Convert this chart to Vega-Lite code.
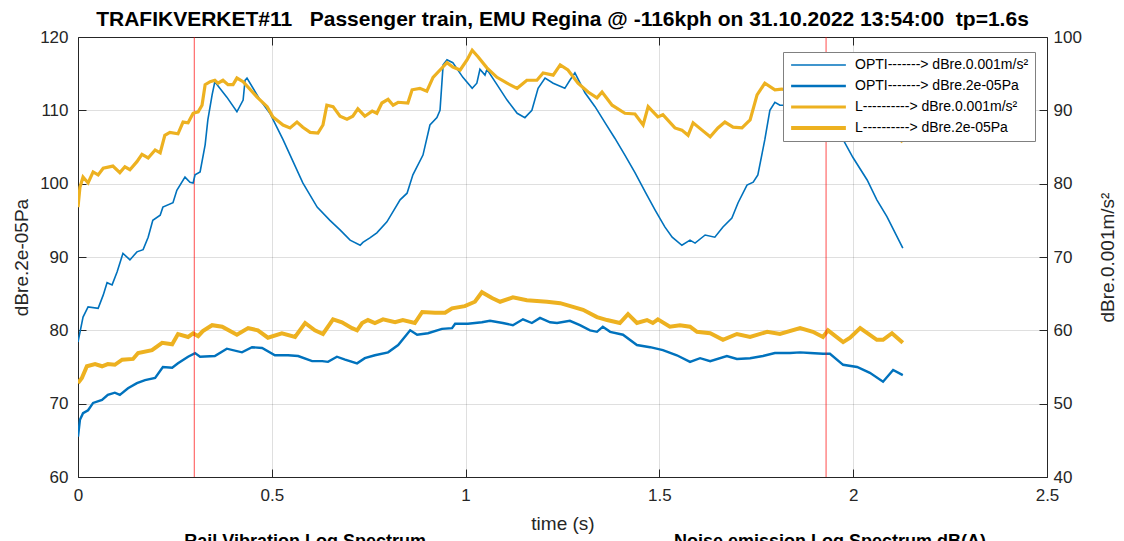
{
"$schema": "https://vega.github.io/schema/vega-lite/v6.json",
"width": 969, "height": 440,
"autosize": {"type": "none"},
"padding": {"left": 78, "top": 37, "right": 77, "bottom": 64},
"background": "white",
"title": {"text": "TRAFIKVERKET#11\u00a0\u00a0\u00a0Passenger train, EMU Regina @ -116kph on 31.10.2022 13:54:00\u00a0\u00a0tp=1.6s", "font": "Liberation Sans", "fontSize": 21, "fontWeight": "bold", "color": "#000000", "anchor": "middle", "offset": -2},
"config": {
  "view": {"stroke": "#262626", "strokeWidth": 1},
  "axis": {"labelFont": "Liberation Sans", "labelFontSize": 17, "labelColor": "#262626", "titleFont": "Liberation Sans", "titleFontSize": 19, "titleFontWeight": "normal", "titleColor": "#262626", "tickColor": "#262626", "domain": false, "gridColor": "#262626", "gridOpacity": 0.15, "tickSize": -8, "labelPadding": 18, "labelFlush": false}
},
"datasets": {
"lines": [
{"s":"OA","t":0,"v":58.4},{"s":"OA","t":0.013,"v":61.8},{"s":"OA","t":0.026,"v":63.2},{"s":"OA","t":0.052,"v":63.0},{"s":"OA","t":0.065,"v":64.8},{"s":"OA","t":0.075,"v":66.5},{"s":"OA","t":0.088,"v":66.2},{"s":"OA","t":0.101,"v":68.0},{"s":"OA","t":0.116,"v":70.5},{"s":"OA","t":0.134,"v":69.6},{"s":"OA","t":0.152,"v":70.7},{"s":"OA","t":0.168,"v":71.0},{"s":"OA","t":0.181,"v":72.7},{"s":"OA","t":0.193,"v":75.0},{"s":"OA","t":0.212,"v":75.7},{"s":"OA","t":0.219,"v":76.8},{"s":"OA","t":0.245,"v":77.4},{"s":"OA","t":0.255,"v":79.1},{"s":"OA","t":0.276,"v":80.9},{"s":"OA","t":0.289,"v":80.2},{"s":"OA","t":0.297,"v":80.1},{"s":"OA","t":0.302,"v":81.2},{"s":"OA","t":0.315,"v":81.6},{"s":"OA","t":0.328,"v":85.3},{"s":"OA","t":0.335,"v":88.7},{"s":"OA","t":0.346,"v":92.1},{"s":"OA","t":0.353,"v":93.9},{"s":"OA","t":0.384,"v":91.8},{"s":"OA","t":0.410,"v":89.8},{"s":"OA","t":0.426,"v":91.4},{"s":"OA","t":0.431,"v":94.1},{"s":"OA","t":0.436,"v":94.4},{"s":"OA","t":0.470,"v":91.4},{"s":"OA","t":0.495,"v":89.6},{"s":"OA","t":0.529,"v":86.0},{"s":"OA","t":0.580,"v":80.1},{"s":"OA","t":0.617,"v":76.8},{"s":"OA","t":0.650,"v":75.0},{"s":"OA","t":0.676,"v":73.7},{"s":"OA","t":0.702,"v":72.3},{"s":"OA","t":0.728,"v":71.6},{"s":"OA","t":0.735,"v":72.0},{"s":"OA","t":0.753,"v":72.6},{"s":"OA","t":0.771,"v":73.3},{"s":"OA","t":0.797,"v":74.8},{"s":"OA","t":0.831,"v":77.8},{"s":"OA","t":0.849,"v":78.7},{"s":"OA","t":0.864,"v":81.2},{"s":"OA","t":0.890,"v":83.9},{"s":"OA","t":0.908,"v":88.0},{"s":"OA","t":0.926,"v":89.0},{"s":"OA","t":0.934,"v":90.0},{"s":"OA","t":0.942,"v":96.2},{"s":"OA","t":0.952,"v":96.9},{"s":"OA","t":0.967,"v":96.5},{"s":"OA","t":0.993,"v":94.5},{"s":"OA","t":1.017,"v":93.0},{"s":"OA","t":1.029,"v":93.7},{"s":"OA","t":1.037,"v":95.6},{"s":"OA","t":1.050,"v":94.8},{"s":"OA","t":1.055,"v":95.6},{"s":"OA","t":1.081,"v":93.5},{"s":"OA","t":1.107,"v":91.4},{"s":"OA","t":1.133,"v":89.6},{"s":"OA","t":1.153,"v":89.0},{"s":"OA","t":1.171,"v":90.0},{"s":"OA","t":1.187,"v":93.0},{"s":"OA","t":1.205,"v":94.4},{"s":"OA","t":1.226,"v":93.7},{"s":"OA","t":1.256,"v":93.0},{"s":"OA","t":1.269,"v":94.1},{"s":"OA","t":1.282,"v":95.1},{"s":"OA","t":1.308,"v":92.4},{"s":"OA","t":1.334,"v":90.5},{"s":"OA","t":1.360,"v":88.3},{"s":"OA","t":1.385,"v":86.2},{"s":"OA","t":1.411,"v":83.9},{"s":"OA","t":1.437,"v":81.5},{"s":"OA","t":1.463,"v":78.9},{"s":"OA","t":1.489,"v":76.4},{"s":"OA","t":1.514,"v":74.1},{"s":"OA","t":1.533,"v":72.7},{"s":"OA","t":1.558,"v":71.6},{"s":"OA","t":1.579,"v":72.3},{"s":"OA","t":1.592,"v":71.9},{"s":"OA","t":1.618,"v":73.0},{"s":"OA","t":1.643,"v":72.7},{"s":"OA","t":1.664,"v":74.1},{"s":"OA","t":1.687,"v":75.3},{"s":"OA","t":1.703,"v":77.4},{"s":"OA","t":1.726,"v":79.8},{"s":"OA","t":1.742,"v":80.2},{"s":"OA","t":1.754,"v":81.2},{"s":"OA","t":1.772,"v":86.0},{"s":"OA","t":1.785,"v":90.0},{"s":"OA","t":1.798,"v":91.1},{"s":"OA","t":1.811,"v":90.7},{"s":"OA","t":1.863,"v":90.7},{"s":"OA","t":1.914,"v":89.4},{"s":"OA","t":1.953,"v":87.6},{"s":"OA","t":1.974,"v":86.0},{"s":"OA","t":1.999,"v":83.6},{"s":"OA","t":2.036,"v":80.5},{"s":"OA","t":2.061,"v":77.8},{"s":"OA","t":2.087,"v":75.5},{"s":"OA","t":2.128,"v":71.2},
{"s":"LA","t":0,"v":76.8},{"s":"LA","t":0.005,"v":79.5},{"s":"LA","t":0.013,"v":80.9},{"s":"LA","t":0.026,"v":80.1},{"s":"LA","t":0.039,"v":81.6},{"s":"LA","t":0.052,"v":81.2},{"s":"LA","t":0.065,"v":82.1},{"s":"LA","t":0.090,"v":82.4},{"s":"LA","t":0.108,"v":81.5},{"s":"LA","t":0.121,"v":82.3},{"s":"LA","t":0.134,"v":81.9},{"s":"LA","t":0.152,"v":83.0},{"s":"LA","t":0.165,"v":84.0},{"s":"LA","t":0.181,"v":83.5},{"s":"LA","t":0.199,"v":84.6},{"s":"LA","t":0.212,"v":84.2},{"s":"LA","t":0.224,"v":86.6},{"s":"LA","t":0.237,"v":87.0},{"s":"LA","t":0.258,"v":86.8},{"s":"LA","t":0.271,"v":88.4},{"s":"LA","t":0.284,"v":88.3},{"s":"LA","t":0.297,"v":89.6},{"s":"LA","t":0.310,"v":89.8},{"s":"LA","t":0.320,"v":90.7},{"s":"LA","t":0.328,"v":93.5},{"s":"LA","t":0.341,"v":93.9},{"s":"LA","t":0.353,"v":94.1},{"s":"LA","t":0.361,"v":93.7},{"s":"LA","t":0.374,"v":94.1},{"s":"LA","t":0.387,"v":93.5},{"s":"LA","t":0.400,"v":93.5},{"s":"LA","t":0.410,"v":94.4},{"s":"LA","t":0.426,"v":93.9},{"s":"LA","t":0.462,"v":91.8},{"s":"LA","t":0.488,"v":90.5},{"s":"LA","t":0.503,"v":89.1},{"s":"LA","t":0.529,"v":88.0},{"s":"LA","t":0.547,"v":87.6},{"s":"LA","t":0.565,"v":88.4},{"s":"LA","t":0.580,"v":87.7},{"s":"LA","t":0.599,"v":87.0},{"s":"LA","t":0.619,"v":86.9},{"s":"LA","t":0.632,"v":88.0},{"s":"LA","t":0.642,"v":90.7},{"s":"LA","t":0.658,"v":90.5},{"s":"LA","t":0.676,"v":89.2},{"s":"LA","t":0.694,"v":88.8},{"s":"LA","t":0.709,"v":89.2},{"s":"LA","t":0.722,"v":90.2},{"s":"LA","t":0.740,"v":89.2},{"s":"LA","t":0.759,"v":89.9},{"s":"LA","t":0.771,"v":89.6},{"s":"LA","t":0.784,"v":91.0},{"s":"LA","t":0.800,"v":91.5},{"s":"LA","t":0.813,"v":90.7},{"s":"LA","t":0.826,"v":91.1},{"s":"LA","t":0.851,"v":91.0},{"s":"LA","t":0.862,"v":92.8},{"s":"LA","t":0.882,"v":93.0},{"s":"LA","t":0.900,"v":92.6},{"s":"LA","t":0.916,"v":94.5},{"s":"LA","t":0.934,"v":95.5},{"s":"LA","t":0.952,"v":96.5},{"s":"LA","t":0.967,"v":95.9},{"s":"LA","t":0.986,"v":95.5},{"s":"LA","t":1.004,"v":96.9},{"s":"LA","t":1.017,"v":98.2},{"s":"LA","t":1.032,"v":97.3},{"s":"LA","t":1.055,"v":95.8},{"s":"LA","t":1.081,"v":94.5},{"s":"LA","t":1.107,"v":93.7},{"s":"LA","t":1.133,"v":93.0},{"s":"LA","t":1.158,"v":94.1},{"s":"LA","t":1.184,"v":94.1},{"s":"LA","t":1.200,"v":95.1},{"s":"LA","t":1.226,"v":94.8},{"s":"LA","t":1.244,"v":96.2},{"s":"LA","t":1.264,"v":95.5},{"s":"LA","t":1.290,"v":93.7},{"s":"LA","t":1.316,"v":92.5},{"s":"LA","t":1.339,"v":91.7},{"s":"LA","t":1.352,"v":92.5},{"s":"LA","t":1.378,"v":90.7},{"s":"LA","t":1.411,"v":89.6},{"s":"LA","t":1.437,"v":89.5},{"s":"LA","t":1.458,"v":88.0},{"s":"LA","t":1.471,"v":90.5},{"s":"LA","t":1.496,"v":89.1},{"s":"LA","t":1.509,"v":89.4},{"s":"LA","t":1.540,"v":87.6},{"s":"LA","t":1.558,"v":87.3},{"s":"LA","t":1.574,"v":86.6},{"s":"LA","t":1.587,"v":88.3},{"s":"LA","t":1.610,"v":87.3},{"s":"LA","t":1.631,"v":86.4},{"s":"LA","t":1.651,"v":87.6},{"s":"LA","t":1.669,"v":88.4},{"s":"LA","t":1.690,"v":87.7},{"s":"LA","t":1.713,"v":87.6},{"s":"LA","t":1.734,"v":88.7},{"s":"LA","t":1.752,"v":92.1},{"s":"LA","t":1.772,"v":93.7},{"s":"LA","t":1.798,"v":92.8},{"s":"LA","t":1.816,"v":92.9},{"s":"LA","t":1.863,"v":92.1},{"s":"LA","t":1.940,"v":90.3},{"s":"LA","t":2.018,"v":89.0},{"s":"LA","t":2.082,"v":87.6},{"s":"LA","t":2.128,"v":85.7},
{"s":"OP","t":0,"v":65.5},{"s":"OP","t":0.005,"v":67.8},{"s":"OP","t":0.013,"v":68.7},{"s":"OP","t":0.026,"v":69.1},{"s":"OP","t":0.039,"v":70.1},{"s":"OP","t":0.062,"v":70.5},{"s":"OP","t":0.077,"v":71.2},{"s":"OP","t":0.095,"v":71.5},{"s":"OP","t":0.108,"v":71.2},{"s":"OP","t":0.129,"v":72.1},{"s":"OP","t":0.152,"v":72.8},{"s":"OP","t":0.173,"v":73.2},{"s":"OP","t":0.199,"v":73.5},{"s":"OP","t":0.219,"v":75.0},{"s":"OP","t":0.243,"v":74.9},{"s":"OP","t":0.258,"v":75.5},{"s":"OP","t":0.284,"v":76.4},{"s":"OP","t":0.302,"v":76.9},{"s":"OP","t":0.315,"v":76.4},{"s":"OP","t":0.353,"v":76.5},{"s":"OP","t":0.384,"v":77.5},{"s":"OP","t":0.423,"v":77.0},{"s":"OP","t":0.449,"v":77.7},{"s":"OP","t":0.475,"v":77.6},{"s":"OP","t":0.508,"v":76.6},{"s":"OP","t":0.542,"v":76.6},{"s":"OP","t":0.568,"v":76.5},{"s":"OP","t":0.604,"v":75.8},{"s":"OP","t":0.630,"v":75.8},{"s":"OP","t":0.645,"v":75.7},{"s":"OP","t":0.668,"v":76.4},{"s":"OP","t":0.689,"v":76.0},{"s":"OP","t":0.720,"v":75.5},{"s":"OP","t":0.740,"v":76.2},{"s":"OP","t":0.766,"v":76.6},{"s":"OP","t":0.800,"v":77.0},{"s":"OP","t":0.826,"v":78.0},{"s":"OP","t":0.857,"v":80.0},{"s":"OP","t":0.875,"v":79.4},{"s":"OP","t":0.903,"v":79.6},{"s":"OP","t":0.939,"v":80.2},{"s":"OP","t":0.965,"v":80.3},{"s":"OP","t":0.973,"v":80.9},{"s":"OP","t":1.006,"v":80.9},{"s":"OP","t":1.042,"v":81.1},{"s":"OP","t":1.063,"v":81.3},{"s":"OP","t":1.096,"v":81.0},{"s":"OP","t":1.122,"v":80.7},{"s":"OP","t":1.148,"v":81.5},{"s":"OP","t":1.171,"v":81.0},{"s":"OP","t":1.192,"v":81.7},{"s":"OP","t":1.218,"v":81.1},{"s":"OP","t":1.236,"v":81.0},{"s":"OP","t":1.269,"v":81.3},{"s":"OP","t":1.295,"v":80.7},{"s":"OP","t":1.321,"v":80.0},{"s":"OP","t":1.339,"v":79.8},{"s":"OP","t":1.354,"v":80.5},{"s":"OP","t":1.373,"v":79.8},{"s":"OP","t":1.406,"v":79.4},{"s":"OP","t":1.442,"v":78.0},{"s":"OP","t":1.476,"v":77.7},{"s":"OP","t":1.509,"v":77.3},{"s":"OP","t":1.545,"v":76.6},{"s":"OP","t":1.579,"v":75.7},{"s":"OP","t":1.605,"v":76.2},{"s":"OP","t":1.631,"v":75.8},{"s":"OP","t":1.674,"v":76.5},{"s":"OP","t":1.700,"v":76.1},{"s":"OP","t":1.734,"v":76.2},{"s":"OP","t":1.767,"v":76.5},{"s":"OP","t":1.798,"v":76.9},{"s":"OP","t":1.837,"v":76.9},{"s":"OP","t":1.863,"v":77.0},{"s":"OP","t":1.889,"v":76.9},{"s":"OP","t":1.922,"v":76.8},{"s":"OP","t":1.940,"v":76.8},{"s":"OP","t":1.974,"v":75.3},{"s":"OP","t":2.010,"v":75.0},{"s":"OP","t":2.043,"v":74.2},{"s":"OP","t":2.077,"v":73.0},{"s":"OP","t":2.103,"v":74.6},{"s":"OP","t":2.128,"v":73.9},
{"s":"LP","t":0,"v":72.8},{"s":"LP","t":0.010,"v":73.5},{"s":"LP","t":0.023,"v":75.1},{"s":"LP","t":0.044,"v":75.4},{"s":"LP","t":0.062,"v":75.1},{"s":"LP","t":0.077,"v":75.4},{"s":"LP","t":0.095,"v":75.3},{"s":"LP","t":0.114,"v":76.0},{"s":"LP","t":0.142,"v":76.1},{"s":"LP","t":0.155,"v":76.9},{"s":"LP","t":0.191,"v":77.3},{"s":"LP","t":0.217,"v":78.3},{"s":"LP","t":0.243,"v":78.1},{"s":"LP","t":0.258,"v":79.5},{"s":"LP","t":0.284,"v":79.1},{"s":"LP","t":0.297,"v":79.6},{"s":"LP","t":0.310,"v":79.2},{"s":"LP","t":0.322,"v":79.9},{"s":"LP","t":0.346,"v":80.7},{"s":"LP","t":0.372,"v":80.5},{"s":"LP","t":0.410,"v":79.4},{"s":"LP","t":0.439,"v":80.3},{"s":"LP","t":0.464,"v":80.0},{"s":"LP","t":0.490,"v":79.0},{"s":"LP","t":0.526,"v":79.6},{"s":"LP","t":0.560,"v":79.1},{"s":"LP","t":0.586,"v":81.0},{"s":"LP","t":0.611,"v":80.0},{"s":"LP","t":0.632,"v":79.5},{"s":"LP","t":0.658,"v":81.5},{"s":"LP","t":0.681,"v":81.1},{"s":"LP","t":0.707,"v":80.3},{"s":"LP","t":0.720,"v":80.0},{"s":"LP","t":0.733,"v":81.0},{"s":"LP","t":0.748,"v":81.4},{"s":"LP","t":0.766,"v":81.0},{"s":"LP","t":0.787,"v":81.5},{"s":"LP","t":0.818,"v":81.1},{"s":"LP","t":0.838,"v":81.4},{"s":"LP","t":0.869,"v":81.0},{"s":"LP","t":0.888,"v":82.5},{"s":"LP","t":0.921,"v":82.4},{"s":"LP","t":0.947,"v":82.4},{"s":"LP","t":0.965,"v":83.0},{"s":"LP","t":0.998,"v":83.3},{"s":"LP","t":1.024,"v":83.9},{"s":"LP","t":1.042,"v":85.2},{"s":"LP","t":1.068,"v":84.4},{"s":"LP","t":1.089,"v":83.9},{"s":"LP","t":1.122,"v":84.5},{"s":"LP","t":1.158,"v":84.1},{"s":"LP","t":1.184,"v":84.0},{"s":"LP","t":1.210,"v":83.9},{"s":"LP","t":1.244,"v":83.7},{"s":"LP","t":1.277,"v":83.2},{"s":"LP","t":1.303,"v":82.8},{"s":"LP","t":1.339,"v":81.8},{"s":"LP","t":1.365,"v":81.4},{"s":"LP","t":1.398,"v":81.0},{"s":"LP","t":1.419,"v":82.2},{"s":"LP","t":1.442,"v":81.0},{"s":"LP","t":1.468,"v":81.4},{"s":"LP","t":1.483,"v":81.0},{"s":"LP","t":1.496,"v":81.5},{"s":"LP","t":1.527,"v":80.5},{"s":"LP","t":1.553,"v":80.7},{"s":"LP","t":1.579,"v":80.5},{"s":"LP","t":1.597,"v":79.8},{"s":"LP","t":1.631,"v":79.6},{"s":"LP","t":1.664,"v":78.7},{"s":"LP","t":1.700,"v":79.5},{"s":"LP","t":1.734,"v":79.1},{"s":"LP","t":1.778,"v":79.8},{"s":"LP","t":1.811,"v":79.5},{"s":"LP","t":1.863,"v":80.3},{"s":"LP","t":1.896,"v":79.8},{"s":"LP","t":1.922,"v":79.1},{"s":"LP","t":1.935,"v":80.0},{"s":"LP","t":1.974,"v":78.4},{"s":"LP","t":1.992,"v":79.0},{"s":"LP","t":2.018,"v":80.3},{"s":"LP","t":2.061,"v":78.7},{"s":"LP","t":2.077,"v":78.7},{"s":"LP","t":2.100,"v":79.6},{"s":"LP","t":2.128,"v":78.3}
]
},
"layer": [
  {
    "layer": [
      {
        "data": {"name": "lines"},
        "transform": [{"filter": "datum.s === 'OP' || datum.s === 'LP'"}],
        "mark": {"type": "line", "clip": true},
        "encoding": {
          "x": {"field": "t", "type": "quantitative", "title": "time (s)", "scale": {"domain": [0, 2.5], "nice": false, "zero": false},
                "axis": {"values": [0, 0.5, 1, 1.5, 2, 2.5], "format": "~g", "grid": true, "titlePadding": 11}},
          "y": {"field": "v", "type": "quantitative", "title": "dBre.2e-05Pa", "scale": {"domain": [60, 120], "nice": false, "zero": false},
                "axis": {"orient": "left", "values": [60, 70, 80, 90, 100, 110, 120], "grid": true, "titlePadding": 8}},
          "color": {"field": "s", "type": "nominal", "scale": {"domain": ["OA", "OP", "LA", "LP"], "range": ["#0072BD", "#0072BD", "#EDB120", "#EDB120"]},
                    "legend": {"title": null, "orient": "none", "legendX": 705, "legendY": 15, "fillColor": "white", "strokeColor": "#808080", "padding": 6, "symbolType": "stroke", "symbolSize": 3000, "clipHeight": 14, "labelFont": "Liberation Sans", "labelFontSize": 14, "labelColor": "#000000", "labelOffset": 7, "labelLimit": 400, "rowPadding": 7,
                               "labelExpr": "{'OA':'OPTI-------> dBre.0.001m/s²','OP':'OPTI-------> dBre.2e-05Pa','LA':'L----------> dBre.0.001m/s²','LP':'L----------> dBre.2e-05Pa'}[datum.value]"}},
          "strokeWidth": {"field": "s", "type": "nominal", "scale": {"domain": ["OA", "OP", "LA", "LP"], "range": [1.6, 4, 1.6, 4]}},
          "detail": {"field": "s"}
        }
      },
      {
        "data": {"values": [{"r": 0.3}, {"r": 1.93}]},
        "mark": {"type": "rule", "color": "#FF0000", "strokeWidth": 1, "opacity": 0.7},
        "encoding": {"x": {"field": "r", "type": "quantitative", "title": "time (s)"}}
      },
      {
        "data": {"values": [{"label": "Rail Vibration Log Spectrum"}]},
        "mark": {"type": "text", "font": "Liberation Sans", "fontSize": 18, "fontWeight": "bold", "baseline": "top", "align": "center", "color": "#000000"},
        "encoding": {"x": {"datum": 0.586, "type": "quantitative", "title": "time (s)"}, "y": {"datum": 52.4, "type": "quantitative", "title": "dBre.2e-05Pa"}, "text": {"field": "label"}}
      },
      {
        "data": {"values": [{"label": "Noise emission Log Spectrum dB(A)"}]},
        "mark": {"type": "text", "font": "Liberation Sans", "fontSize": 18, "fontWeight": "bold", "baseline": "top", "align": "center", "color": "#000000"},
        "encoding": {"x": {"datum": 1.94, "type": "quantitative", "title": "time (s)"}, "y": {"datum": 52.4, "type": "quantitative", "title": "dBre.2e-05Pa"}, "text": {"field": "label"}}
      }
    ]
  },
  {
    "data": {"name": "lines"},
    "transform": [{"filter": "datum.s === 'OA' || datum.s === 'LA'"}],
    "mark": {"type": "line", "clip": true},
    "encoding": {
      "x": {"field": "t", "type": "quantitative", "axis": {"orient": "top", "labels": false, "title": null, "grid": false, "values": [0.5, 1, 1.5, 2]}},
      "y": {"field": "v", "type": "quantitative", "scale": {"domain": [40, 100], "nice": false, "zero": false},
            "axis": {"title": "dBre.0.001m/s²", "orient": "right", "values": [40, 50, 60, 70, 80, 90, 100], "grid": false, "titleAngle": 270, "titlePadding": 36, "labelPadding": 14}},
      "color": {"field": "s", "type": "nominal"},
      "strokeWidth": {"field": "s", "type": "nominal"},
      "detail": {"field": "s"}
    }
  }
],
"resolve": {"scale": {"y": "independent"}, "axis": {"x": "independent"}}
}
